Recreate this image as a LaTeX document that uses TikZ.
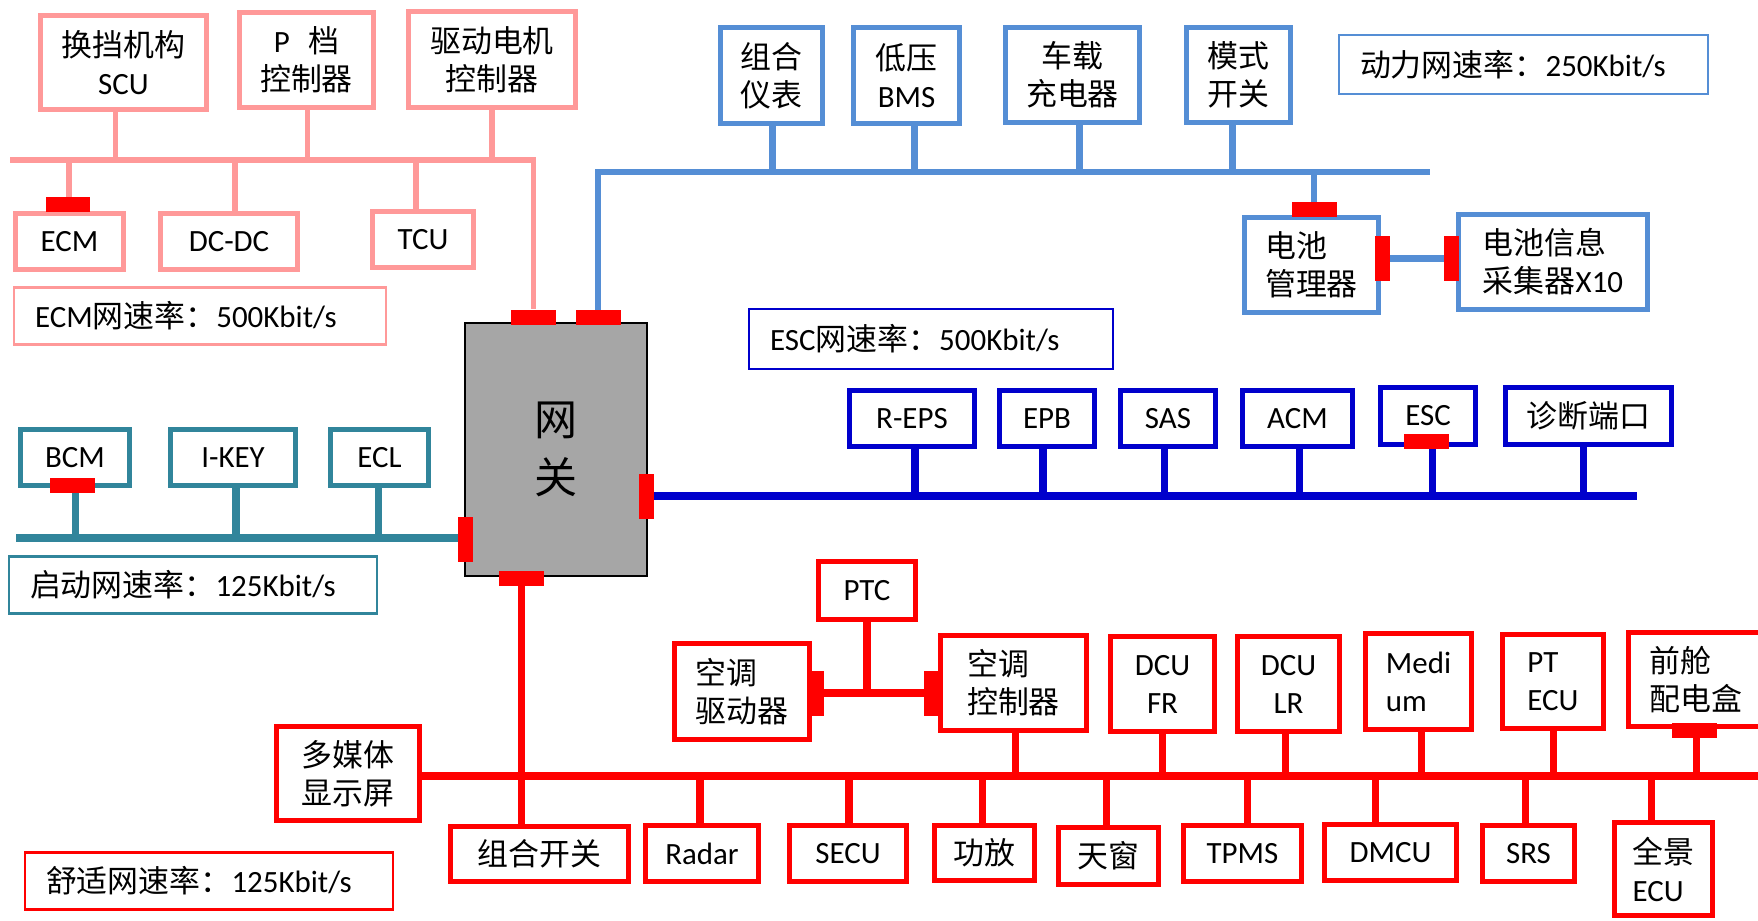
\documentclass[tikz,border=0pt]{standalone}
\usepackage{fontspec}
\setmainfont{Carlito}
\newfontfamily\cjk{Noto Sans CJK SC}
\newcommand{\zh}[1]{{\cjk #1}}
\newcommand{\ecufont}{\fontsize{17.6}{21.6}\selectfont}

\definecolor{pinkbus}{RGB}{255,153,153}
\definecolor{powerblue}{RGB}{85,142,213}
\definecolor{escblue}{RGB}{0,0,204}
\definecolor{startteal}{RGB}{49,133,155}
\definecolor{comfortred}{RGB}{255,0,0}
\definecolor{gwgray}{RGB}{166,166,166}

\tikzset{
  sz/.style 2 args={minimum width=#1*0.02cm, minimum height=#2*0.02cm},
  ecu/.style={draw=#1, line width=3pt, fill=white, inner sep=0pt, align=center, font=\ecufont},
  rate/.style={draw=#1, line width=1.5pt, inner xsep=0.42cm, inner ysep=0pt, minimum height=1.14cm, align=left, font=\ecufont},
  hpad/.style={fill=red, inner sep=0pt, minimum width=0.9cm, minimum height=0.3cm},
  vpad/.style={fill=red, inner sep=0pt, minimum width=0.3cm, minimum height=0.9cm},
  bus/.style={draw=#1, line width=4pt}
}

\begin{document}
\begin{tikzpicture}[x=0.02cm, y=-0.02cm]
\useasboundingbox (0,0) rectangle (1758,920);

% Gateway
\node[draw=black, line width=0.8pt, fill=gwgray, sz={182}{253}, inner sep=0pt, align=center,
  font=\fontsize{24.5}{33}\selectfont\cjk] (gw) at (556,449.5) {网\\关};
\node[hpad] (gwpk) at (533.5,317) {};
\node[hpad] (gwbl) at (598,317.5) {};
\node[vpad] (gwdb) at (646.5,496) {};
\node[vpad] (gwtl) at (465.5,539.5) {};
\node[hpad] (gwrd) at (521.5,578) {};

% ECM network
\node[ecu=pinkbus, sz={166}{94}] (scu) at (123.5,62.5) {\zh{换挡机构}\\SCU};
\node[ecu=pinkbus, sz={134}{95}] (pdang) at (306.5,60) {P\hspace{0.6em}\zh{档}\\\zh{控制器}};
\node[ecu=pinkbus, sz={167}{96}] (qudong) at (492,59.5) {\zh{驱动电机}\\\zh{控制器}};
\node[ecu=pinkbus, sz={108}{56}] (ecm) at (69.5,241.5) {ECM};
\node[ecu=pinkbus, sz={137}{56}] (dcdc) at (229,241.5) {DC-DC};
\node[ecu=pinkbus, sz={101}{56}] (tcu) at (423,239.5) {TCU};
\node[hpad] (ecmpad) at (68,204.5) {};
\node[rate=pinkbus, text width=6.6cm] (ecmrate) at (200,316) {ECM\zh{网速率：}500Kbit/s};

% Power network
\node[ecu=powerblue, sz={102}{96}] (zhyb) at (771.5,75.5) {\zh{组合}\\\zh{仪表}};
\node[ecu=powerblue, sz={106}{96}] (dybms) at (906.5,75.5) {\zh{低压}\\BMS};
\node[ecu=powerblue, sz={134}{95}] (czcd) at (1072.5,75) {\zh{车载}\\\zh{充电器}};
\node[ecu=powerblue, sz={104}{95}] (mskg) at (1238.5,75) {\zh{模式}\\\zh{开关}};
\node[ecu=powerblue, sz={134}{95}, align=left] (dcgl) at (1311.5,265) {\zh{电池}\\\zh{管理器}};
\node[ecu=powerblue, sz={189}{95}, align=left] (dcxx) at (1553,262) {\zh{电池信息}\\\zh{采集器}X10};
\node[hpad] (dcglpad) at (1314,209.5) {};
\node[vpad] (dcglr) at (1382.5,258.5) {};
\node[vpad] (dcxxl) at (1451.5,258.5) {};
\node[rate=powerblue, text width=6.54cm, minimum height=1.18cm] (dlrate) at (1523.5,64.5) {\zh{动力网速率：}250Kbit/s};

% ESC network
\node[ecu=escblue, sz={125}{56}] (reps) at (912,418.5) {R-EPS};
\node[ecu=escblue, sz={95}{56}] (epb) at (1047,418.5) {EPB};
\node[ecu=escblue, sz={95}{56}] (sas) at (1168,418.5) {SAS};
\node[ecu=escblue, sz={110}{56}] (acm) at (1297.5,418.5) {ACM};
\node[ecu=escblue, sz={95}{57}] (esc) at (1428,416) {ESC};
\node[ecu=escblue, sz={166}{57}] (zdck) at (1588.5,416) {\zh{诊断端口}};
\node[hpad] (escpad) at (1426,441.5) {};
\node[rate=escblue, text width=6.44cm, minimum height=1.2cm] (escrate) at (931,339) {ESC\zh{网速率：}500Kbit/s};

% Start network
\node[ecu=startteal, sz={109}{56}] (bcm) at (75,457.5) {BCM};
\node[ecu=startteal, sz={125}{56}] (ikey) at (233,457.5) {I-KEY};
\node[ecu=startteal, sz={98}{56}] (ecl) at (379.5,457.5) {ECL};
\node[hpad] (bcmpad) at (72.5,485.5) {};
\node[rate=startteal, text width=6.52cm] (qdrate) at (193,585) {\zh{启动网速率：}125Kbit/s};

% Comfort network
\node[ecu=comfortred, sz={97}{58}] (ptc) at (867,590.5) {PTC};
\node[ecu=comfortred, sz={135}{96}, align=left] (ktqd) at (742,691.5) {\zh{空调}\\\zh{驱动器}};
\node[ecu=comfortred, sz={146}{95}, align=left] (ktkz) at (1013.5,683) {\zh{空调}\\\zh{控制器}};
\node[ecu=comfortred, sz={104}{95}] (dcufr) at (1162.5,684) {DCU\\FR};
\node[ecu=comfortred, sz={102}{95}] (dculr) at (1288.5,684) {DCU\\LR};
\node[ecu=comfortred, sz={106}{96}, align=left] (medium) at (1418.5,681.5) {Medi\\um};
\node[ecu=comfortred, sz={101}{94}, align=left] (ptecu) at (1553,681.5) {PT\\ECU};
\node[ecu=comfortred, sz={135}{94}, align=left] (qcpd) at (1696,679.5) {\zh{前舱}\\\zh{配电盒}};
\node[ecu=comfortred, sz={143}{94}] (dmt) at (348,773.5) {\zh{多媒体}\\\zh{显示屏}};
\node[ecu=comfortred, sz={178}{55}] (zhkg) at (539.5,854) {\zh{组合开关}};
\node[ecu=comfortred, sz={113}{56}] (radar) at (702,853.5) {Radar};
\node[ecu=comfortred, sz={117}{56}] (secu) at (848,853.5) {SECU};
\node[ecu=comfortred, sz={100}{55}] (gongfang) at (984.5,853) {\zh{功放}};
\node[ecu=comfortred, sz={100}{57}] (tianchuang) at (1108.5,856) {\zh{天窗}};
\node[ecu=comfortred, sz={118}{56}] (tpms) at (1242.5,853.5) {TPMS};
\node[ecu=comfortred, sz={132}{56}] (dmcu) at (1390.5,852.5) {DMCU};
\node[ecu=comfortred, sz={92}{56}] (srs) at (1528.5,853.5) {SRS};
\node[ecu=comfortred, sz={98}{93}, align=left] (qjecu) at (1663.5,869) {\zh{全景}\\ECU};
\node[vpad] (ktqdpad) at (816,693) {};
\node[vpad] (ktkzpad) at (931.5,693) {};
\node[hpad] (qcpdpad) at (1694.5,730.5) {};
\node[rate=comfortred, text width=6.52cm] (ssrate) at (209,881) {\zh{舒适网速率：}125Kbit/s};

% Bus ends
\coordinate (pkL) at (10,160);
\coordinate (blR) at (1430,172);
\coordinate (dbR) at (1637,496);
\coordinate (tlL) at (16,538);
\coordinate (rdR) at (1770,776);

% ECM bus
\draw[bus=pinkbus, line width=3.4pt] (pkL) -| (gwpk.north);
\foreach \n/\d in {scu/-8,pdang/1,qudong/0} {
  \coordinate (t) at ([xshift=\d*0.02cm]\n.south);
  \draw[bus=pinkbus, line width=3.4pt] (t) -- (t |- pkL);
}
\foreach \n/\d in {ecmpad/1,dcdc/6,tcu/-7} {
  \coordinate (t) at ([xshift=\d*0.02cm]\n.north);
  \draw[bus=pinkbus, line width=3.4pt] (t) -- (t |- pkL);
}

% Power bus
\draw[bus=powerblue, line width=3.6pt] (gwbl.north) |- (blR);
\foreach \n/\d in {zhyb/1,dybms/8,czcd/7,mskg/-6} {
  \coordinate (t) at ([xshift=\d*0.02cm]\n.south);
  \draw[bus=powerblue, line width=3.6pt] (t) -- (t |- blR);
}
\draw[bus=powerblue, line width=3.6pt] (dcglpad.north) -- (dcglpad.north |- blR);
\draw[bus=powerblue] (dcglr.east) -- (dcxxl.west);

% ESC bus
\draw[bus=escblue] (gwdb.east) -- (gwdb.east -| dbR);
\foreach \n/\d in {reps/3,epb/-4,sas/-4,acm/2,escpad/6,zdck/-5} {
  \coordinate (t) at ([xshift=\d*0.02cm]\n.south);
  \draw[bus=escblue] (t) -- (t |- dbR);
}

% Start bus
\draw[bus=startteal] (tlL) -- (tlL -| gwtl.west);
\foreach \n/\d in {bcmpad/3,ikey/3,ecl/-1} {
  \coordinate (t) at ([xshift=\d*0.02cm]\n.south);
  \draw[bus=startteal] (t) -- (t |- tlL);
}

% Comfort bus
\draw[bus=comfortred] (dmt.east |- rdR) -- (rdR);
\draw[bus=comfortred] (gwrd.south) -- (gwrd.south |- zhkg.north);
\draw[bus=comfortred] (ktqdpad.east) -- (ktkzpad.west);
\draw[bus=comfortred] (ptc.south) -- (ptc.south |- ktqdpad);
\foreach \n/\d in {ktkz/2,dcufr/0,dculr/-3,medium/3,ptecu/0,qcpdpad/2} {
  \coordinate (t) at ([xshift=\d*0.02cm]\n.south);
  \draw[bus=comfortred] (t) -- (t |- rdR);
}
\foreach \n/\d in {radar/-2,secu/1,gongfang/-2,tianchuang/-2,tpms/5,dmcu/-15,srs/-3,qjecu/-12} {
  \coordinate (t) at ([xshift=\d*0.02cm]\n.north);
  \draw[bus=comfortred] (t) -- (t |- rdR);
}
\end{tikzpicture}
\end{document}
